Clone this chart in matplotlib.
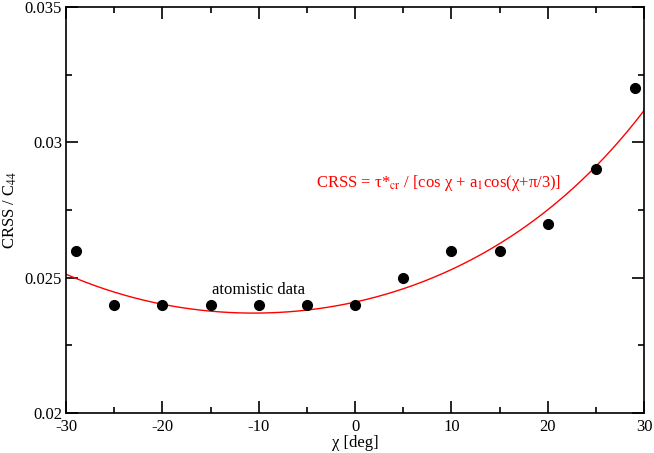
import matplotlib
matplotlib.use('Agg')
import matplotlib.pyplot as plt
import numpy as np

plt.rcParams['font.family'] = ['Liberation Serif', 'DejaVu Serif']
plt.rcParams['mathtext.fontset'] = 'stix'
plt.rcParams['axes.unicode_minus'] = False

# atomistic data
chi = [-29, -25, -20, -15, -10, -5, 0, 5, 10, 15, 20, 25, 29]
crss = [0.026, 0.024, 0.024, 0.024, 0.024, 0.024, 0.024, 0.025, 0.026, 0.026, 0.027, 0.029, 0.032]

# fit parameters
tau_cr = 0.0270
a1 = 0.2407

x_ticks = [-30, -20, -10, 0, 10, 20, 30]
y_ticks = [0.02, 0.025, 0.03, 0.035]
y_tick_labels = ['0.02', '0.025', '0.03', '0.035']

fig = plt.figure(figsize=(6.54, 4.53), dpi=100)
ax = fig.add_axes([0.101, 0.088, 0.884, 0.897])

c = np.linspace(-30, 30, 300)
r = np.radians(c)
fit = tau_cr / (np.cos(r) + a1 * np.cos(r + np.pi / 3))
ax.plot(c, fit, color='red', lw=1.0)
ax.plot(chi, crss, 'o', color='black', ms=7)

ax.set_xlim(-30, 30)
ax.set_ylim(0.02, 0.035)
ax.set_xticks(x_ticks)
ax.set_xticks(np.arange(-25, 30, 10), minor=True)
ax.set_yticks(y_ticks)
ax.set_yticklabels(y_tick_labels)
ax.set_yticks([0.0225, 0.0275, 0.0325], minor=True)
ax.tick_params(which='both', direction='in', top=True, right=True, labelsize=12, width=1.2)
ax.tick_params(axis='x', which='major', length=8.4, pad=4)
ax.tick_params(axis='y', which='major', length=8.4, pad=3)
ax.tick_params(which='minor', length=4.3)
for s in ax.spines.values():
    s.set_linewidth(1.2)

ax.set_xlabel('χ [deg]', fontsize=12, labelpad=0)
ax.set_ylabel(r'CRSS / C$_{44}$', fontsize=12, labelpad=4)

ax.text(-10, 0.02454, 'atomistic data', fontsize=12, ha='center', va='center')
ax.text(-4.1, 0.0285, r'CRSS = τ*$_{\mathrm{cr}}$ / [cos χ + a$_{1}$cos(χ+π/3)]',
        fontsize=12, color='red', ha='left', va='center')

fig.savefig('out.png', dpi=100)
